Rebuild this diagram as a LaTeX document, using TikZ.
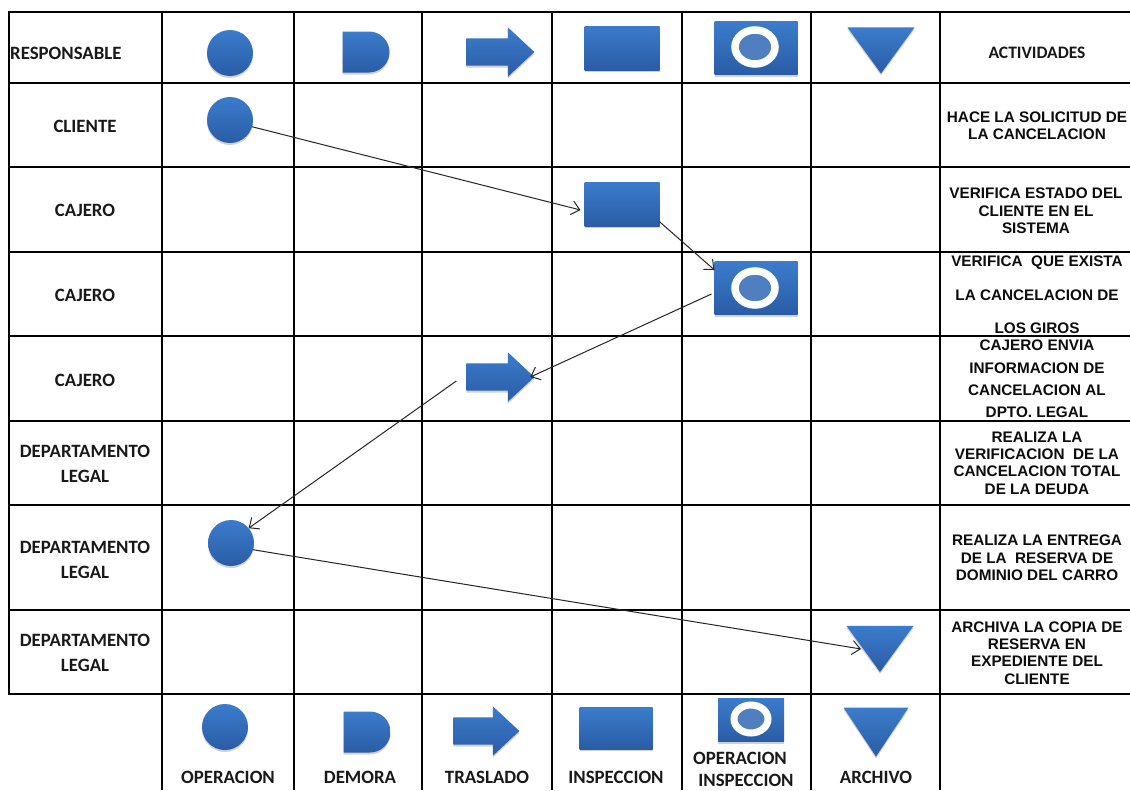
\documentclass[tikz,border=0pt]{standalone}
\usepackage{fontspec}
\setmainfont{Carlito}
\newfontfamily\actfont{Liberation Sans}
\usetikzlibrary{shapes.geometric,shapes.arrows,shapes.misc,shadows,arrows.meta}
\definecolor{bluetop}{HTML}{3B7CCB}
\definecolor{bluebot}{HTML}{2A5CA6}
\definecolor{ringfill}{HTML}{4F7FBE}
\tikzset{
  gridline/.style={line width=2pt,black},
  flowsym/.style={draw=none,inner sep=0pt,outer sep=0pt,top color=bluetop,bottom color=bluebot,
    drop shadow={shadow xshift=0pt,shadow yshift=-2pt,fill=black,opacity=.18}},
  opcircle/.style={flowsym,circle,minimum size=46pt},
  demorasym/.style={flowsym,rounded rectangle,rounded rectangle west arc=none,minimum width=47pt,minimum height=41pt},
  movesym/.style={flowsym,single arrow,minimum height=68pt,single arrow head extend=11pt,single arrow tip angle=86},
  inspsym/.style={flowsym,rectangle,minimum width=75pt,minimum height=44pt},
  opinspsym/.style={flowsym,rectangle,minimum width=83pt,minimum height=53pt},
  opring/.style={ellipse,draw=white,fill=ringfill,line width=7.5pt,minimum width=40pt,minimum height=34pt,inner sep=0pt},
  archsym/.style={flowsym,isosceles triangle,isosceles triangle stretches,shape border rotate=-90,minimum width=67pt,minimum height=46pt},
  resp/.style={align=center,inner sep=0pt,text=black!90,font=\fontsize{18.8}{25}\selectfont\bfseries},
  act/.style={align=center,inner sep=0pt,text=black!95},
  flow/.style={line width=1pt,black!85,-{Straight Barb[length=8pt,width=14pt]}},
}
\newcommand{\actf}[1]{\actfont\fontsize{15.3}{#1}\selectfont\bfseries}
\newcommand{\shaft}{\rule{0pt}{27pt}}
\begin{document}
\begin{tikzpicture}[x=1pt,y=-1pt]
\useasboundingbox[fill=white] (0,0) rectangle (1130,790);
% grid
\foreach \yy in {83,167,252,336,421,505,610}
  \draw[gridline] (9,\yy) -- (1130,\yy);
\draw[gridline] (1130,12) -- (9,12) -- (9,694) -- (1130,694);
\foreach \xx in {162,294,422,552,682,811,940}
  \draw[gridline] (\xx,12) -- (\xx,790);
% header symbols
\node[opcircle] (hc) at (230,53) {};
\node[demorasym] (hd) at (366,52) {};
\node[movesym] (ha) at (493,52) {\shaft};
\node[inspsym] (hr) at (622,48) {};
\node[opinspsym] (ho) at (756,48) {};
\node[opring] (hor) at (755,47) {};
\node[archsym] (ht) at (881,44.5) {};
% flow symbols
\node[opcircle] (c1) at (230,120) {};
\node[inspsym] (r2) at (622,204) {};
\node[opinspsym] (o3) at (756,288) {};
\node[opring] (o3r) at (755,288) {};
\node[movesym] (a4) at (493,377) {\shaft};
\node[opcircle] (c7) at (231,543) {};
\node[archsym] (t8) at (880,643) {};
% legend symbols
\node[opcircle] (lc) at (225,727) {};
\node[demorasym] (ld) at (367,732) {};
\node[movesym,minimum height=66pt] (la) at (479,731) {\shaft};
\node[inspsym,minimum width=73pt,minimum height=42pt] (lr) at (616,728) {};
\node[opinspsym,minimum width=66pt,minimum height=43pt] (lo) at (751,720) {};
\node[opring,line width=7pt,minimum width=34pt,minimum height=28pt] (lor) at (751,719) {};
\node[archsym,minimum width=65pt,minimum height=49pt] (lt) at (876,725) {};
% connectors
\draw[flow] (c1.-17) -- ([shift={(-4,6)}]r2.west);
\draw[flow] ([yshift=-1pt,xshift=0pt]r2.-24) -- ([shift={(0,-18)}]o3.west);
\draw[flow] ([shift={(-3,6)}]o3.west) -- ([xshift=-4pt]a4.east);
\draw[flow] ([shift={(-10,4)}]a4.west) -- (c7.40);
\draw[flow] (c7.-17) -- ([shift={(-19,6)}]t8.center);
% labels
\node[resp,anchor=west] (l0) at (10,53) {RESPONSABLE};
\node[resp] (l1) at (85,126) {CLIENTE};
\node[resp] (l2) at (85,210) {CAJERO};
\node[resp] (l3) at (85,295) {CAJERO};
\node[resp] (l4) at (85,380) {CAJERO};
\node[resp] (l5) at (85,464) {DEPARTAMENTO\\LEGAL};
\node[resp] (l6) at (85,560) {DEPARTAMENTO\\LEGAL};
\node[resp] (l7) at (85,653) {DEPARTAMENTO\\LEGAL};
\node[resp,font=\fontsize{17.5}{25}\selectfont\bfseries] (l8) at (1037,53) {ACTIVIDADES};
\node[act,font=\actf{17.4}] (a1) at (1037,126) {HACE LA SOLICITUD DE\\LA CANCELACION};
\node[act,font=\actf{17.4}] (a2) at (1036,211) {VERIFICA ESTADO DEL\\CLIENTE EN EL\\SISTEMA};
\node[act,font=\actf{33.5}] (a3) at (1037,295) {VERIFICA\ \ QUE EXISTA\\LA CANCELACION DE\\LOS GIROS};
\node[act,font=\actf{22.2}] (a4t) at (1037,379) {CAJERO ENVIA\\INFORMACION DE\\CANCELACION AL\\DPTO. LEGAL};
\node[act,font=\actf{17.4}] (a5) at (1037,463) {REALIZA LA\\VERIFICACION\ \ DE LA\\CANCELACION TOTAL\\DE LA DEUDA};
\node[act,font=\actf{17.4}] (a6) at (1037,558) {REALIZA LA ENTREGA\\DE LA\ \ RESERVA DE\\DOMINIO DEL CARRO};
\node[act,font=\actf{17.4}] (a7) at (1037,653) {ARCHIVA LA COPIA DE\\RESERVA EN\\EXPEDIENTE DEL\\CLIENTE};
\node[resp] (b1) at (228,777) {OPERACION};
\node[resp] (b2) at (360,777) {DEMORA};
\node[resp] (b3) at (487,777) {TRASLADO};
\node[resp] (b4) at (616,777) {INSPECCION};
\node[resp] (b5) at (740,758) {OPERACION};
\node[resp] (b6) at (746,780) {INSPECCION};
\node[resp] (b7) at (876,777) {ARCHIVO};
\end{tikzpicture}
\end{document}
